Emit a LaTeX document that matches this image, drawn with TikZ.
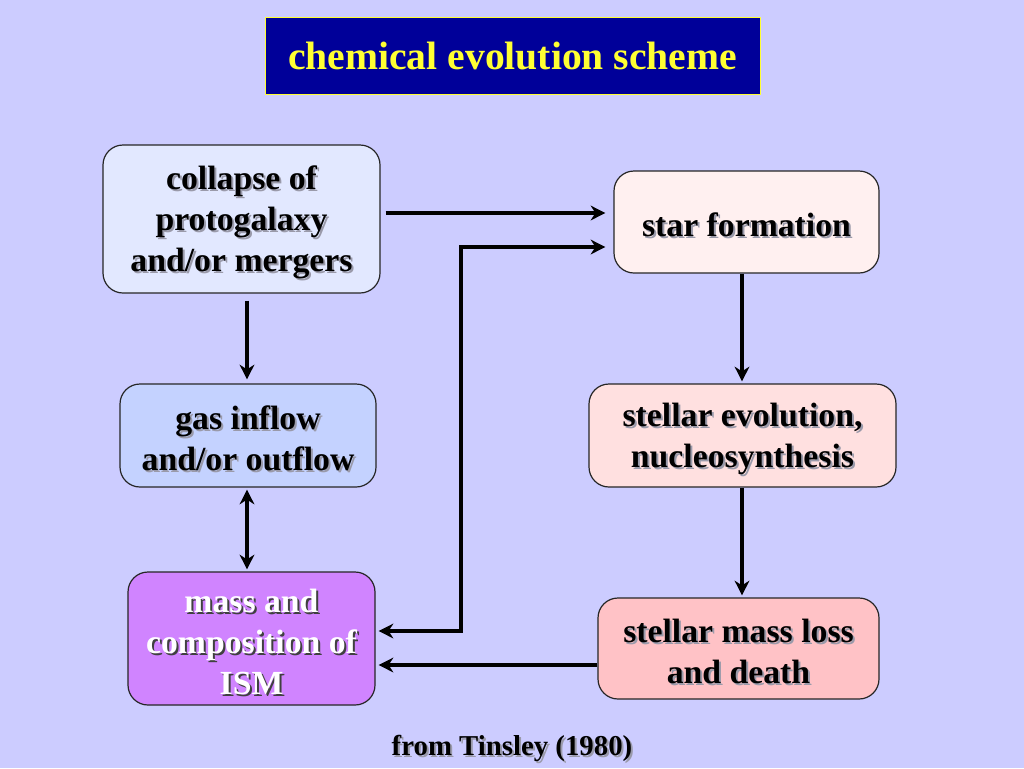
\documentclass[tikz,border=0pt]{standalone}
\usepackage{fontspec}
\setmainfont{Liberation Serif}
\usetikzlibrary{arrows.meta}
\definecolor{bg}{HTML}{CCCCFF}
\definecolor{titlebg}{HTML}{000099}
\definecolor{titlefg}{HTML}{FFFF33}
\definecolor{fcollapse}{HTML}{E2E8FF}
\definecolor{fgas}{HTML}{C4D2FF}
\definecolor{fism}{HTML}{D084FF}
\definecolor{fstar}{HTML}{FFF0F0}
\definecolor{fevo}{HTML}{FFE0E0}
\definecolor{floss}{HTML}{FFC2C6}
\definecolor{lightshadow}{HTML}{9A9AAA}
\definecolor{darkshadow}{HTML}{404040}
\newcommand\shadowed[4]{%
  \node[txt,text=#4] at ([shift={(2,5)}]#1.center) {#2};
  \node[txt,text=#3] (#1-t) at ([shift={(0,3)}]#1.center) {#2};}
\tikzset{
  x=0.75pt, y=-0.75pt,
  flowbox/.style={draw=black!85, line width=0.9pt, rounded corners=15pt, inner sep=0pt},
  txt/.style={align=center, inner sep=0pt, font=\fontsize{25.3}{30.75}\selectfont\bfseries},
  tip/.tip={Stealth[length=11pt,width=11pt,inset=3.5pt]},
  arr/.style={line width=2.6pt, -tip},
  arrboth/.style={line width=2.6pt, tip-tip},
}
\begin{document}
\begin{tikzpicture}
\useasboundingbox[fill=bg] (0,0) rectangle (1024,768);
% title
\node[draw=titlefg, line width=0.6pt, fill=titlebg, minimum width=495*0.75pt, minimum height=77*0.75pt, inner sep=0pt] (title) at (512.5,55.5) {};
\node[text=titlefg, inner sep=0pt, font=\fontsize{29.7}{34}\selectfont\bfseries] (title-t) at (title.center) {chemical evolution scheme};
% boxes
\node[flowbox, fill=fcollapse, minimum width=277*0.75pt, minimum height=148*0.75pt] (collapse) at (241.5,219) {};
\node[flowbox, fill=fstar, minimum width=265*0.75pt, minimum height=102*0.75pt] (star) at (746.5,222) {};
\node[flowbox, fill=fgas, minimum width=256*0.75pt, minimum height=103*0.75pt] (gas) at (248,435.5) {};
\node[flowbox, fill=fevo, minimum width=307*0.75pt, minimum height=103*0.75pt] (evo) at (742.5,435.5) {};
\node[flowbox, fill=fism, minimum width=247*0.75pt, minimum height=133*0.75pt] (ism) at (251.5,638.5) {};
\node[flowbox, fill=floss, minimum width=281*0.75pt, minimum height=101*0.75pt] (loss) at (738.5,648.5) {};
% texts
\shadowed{collapse}{collapse of\\protogalaxy\\and/or mergers}{black}{lightshadow}
\shadowed{star}{star formation}{black}{lightshadow}
\shadowed{gas}{gas inflow\\and/or outflow}{black}{lightshadow}
\shadowed{evo}{stellar evolution,\\nucleosynthesis}{black}{lightshadow}
\shadowed{ism}{mass and\\composition of\\ISM}{white}{darkshadow}
\shadowed{loss}{stellar mass loss\\and death}{black}{lightshadow}
% caption
\coordinate (capc) at (512,748);
\node[inner sep=0pt, text=lightshadow, font=\fontsize{21.6}{25}\selectfont\bfseries] at ([shift={(2,2)}]capc) {from Tinsley (1980)};
\node[inner sep=0pt, text=black, font=\fontsize{21.6}{25}\selectfont\bfseries] (caption) at (capc) {from Tinsley (1980)};
% connectors
\coordinate (bend) at (461,247);
\draw[arr] ([shift={(5,-6)}]collapse.east) -- ([shift={(-8,-9)}]star.west);
\draw[arrboth] ([shift={(3,-7.5)}]ism.east) -| (bend) -- ([shift={(-8,25)}]star.west);
\draw[arr] ([shift={(5.5,7)}]collapse.south) -- ([shift={(-1,-4)}]gas.north);
\draw[arrboth] ([shift={(-1,2)}]gas.south) -- ([shift={(-4.5,-2)}]ism.north);
\draw[arr] ([shift={(-4.5,0)}]star.south) -- ([shift={(-0.5,-2)}]evo.north);
\draw[arr] ([shift={(-0.5,0)}]evo.south) -- ([shift={(3.5,-2)}]loss.north);
\draw[arr] ([shift={(0,16.5)}]loss.west) -- ([shift={(3,26.5)}]ism.east);
\end{tikzpicture}
\end{document}
